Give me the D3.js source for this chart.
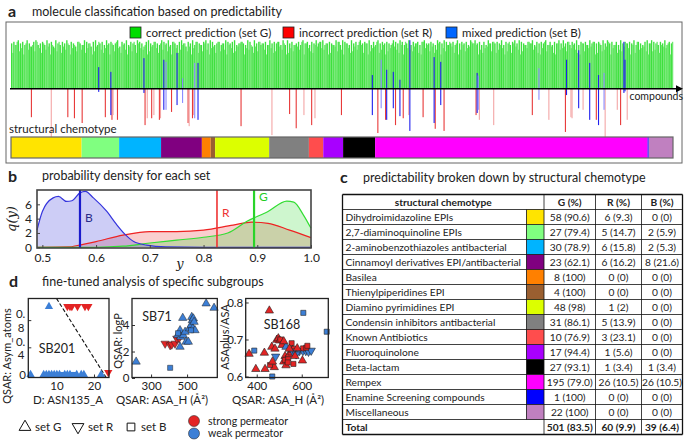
<!DOCTYPE html>
<html><head><meta charset="utf-8">
<script src="https://cdn.jsdelivr.net/npm/d3@7"></script>
<style>
body{margin:0;background:#fff}
svg{display:block}
text{font-family:Lato,'Open Sans',sans-serif;fill:#222}
</style>
</head><body>
<svg id="fig" width="685" height="440"></svg>
<script>
// ---------- data ----------
const nComp = 600;
// green bar heights per compound: digit = dark bar, letter = light bar (a=0 .. j=9)
const greenCodes =
  "7b8g6i9c7e 8a6h9d7f5g 8c9i6e7b8h 6d9f7a8g5e 9c7i6b8f7d 9h6a8e7g5c " +
  "8i7d6g9b8e 7h5a8c9f6i 7d8b6e9g7a 8h6c7i9e5b 8g7d9a6f8c 7i6b9h8e7d " +
  "5g8a9c7f6i 8e7b6h9d8g 7c9f6a8i7e 6b8d9g7h5c 8f7a9e6i8b 7g6c8h9d7a " +
  "9e8f6b7i8c 6h7d9a8g7e 8b9c6f7h8i 7a6e9d8g5b 9f7c8i6h7d 8a6g9e7b8c " +
  "7i8f6d9h6a 9b7e8c6g7f 8d6i9a7h8e 6c8b7g9f7i 8e9d6h7a8b 7g6f9c8i6d " +
  "9a8h7e6b9c 7f8d6i9g7b 8h7a9c6e8f 6i9b7d8g7a 8c7e6h9f8d 7b9g8a6i7e " +
  "9d6c8f7h8b 6a8i9e7g7c 8f7b6d9h8a 7e9c8g6i7f 8b6h9a7d8g 7c8e6f9i7h " +
  "9g7a8d6b8e 6f9h7c8i7b 8d7g9e6a8c 7i6b8h9f7d 9a8c7g6e8i 7h9d6f8b7a " +
  "8e7i9c6g8f 6b8a7h9d7e 9f7c8i6e8g 7d9b6a8h7c 8g6e9f7i8a 7b8h6c9d7f " +
  "9i7a8e6g8b 6d9c7f8h7e 8a7g9b6i8d 7e6f8c9a7h 9c8d7i6b8g 7f9e6h8a7i";
// red (incorrect) compounds: [index, depth, pale]
const redBars = [
  [18,-0.54,0],[36,-0.97,1],[51,-0.54,0],[57,-0.56,0],[64,-0.65,0],[85,-0.54,0],[91,-0.59,0],
  [92,-0.5,1],[96,-0.59,0],[121,-0.69,0],[123,-0.56,1],[127,-0.56,0],[129,-0.5,1],[134,-0.59,0],
  [135,-0.56,1],[145,-0.44,0],[160,-0.65,0],[161,-0.71,1],[164,-0.56,0],[165,-0.5,1],[208,-0.71,0],
  [236,-0.88,1],[252,-0.48,0],[258,-0.75,0],[265,-0.5,1],[272,-0.69,0],[275,-0.56,1],[299,-0.5,0],
  [332,-0.84,0],[339,-0.59,0],[348,-0.69,0],[355,-0.56,0],[360,-0.5,1],[373,-0.54,0],[384,-0.76,0],
  [392,-0.8,0],[421,-0.5,0],[424,-0.59,1],[437,-0.69,1],[472,-0.5,0],[487,-0.59,1],[502,-0.82,0],
  [507,-0.54,1],[508,-0.56,1],[518,-0.4,1],[530,-0.59,0],[538,-1.13,1],[549,-0.4,1],[552,-0.69,0],
  [558,-0.59,1]
];
// blue (mixed) compounds: [index, up, down, pale]
const blueBars = [
  [79,0.41,-0.06,0],[90,0.32,-0.5,0],[120,0.58,-0.08,0],[138,0.55,-0.4,0],[140,0.51,-0.4,1],
  [150,0.68,-0.31,0],[155,0.2,-0.27,1],[166,0.49,-0.56,1],[169,0.49,-0.59,0],[327,0.26,-0.5,0],
  [335,0.55,-0.37,1],[340,0.36,-0.59,0],[346,0.32,-0.37,0],[352,0.17,-0.52,0],[361,0.92,-0.8,0],
  [383,0.6,-0.65,0],[389,0.51,-0.31,0],[422,0.3,-0.46,0],[423,0.25,-0.4,1],[478,0.39,-0.21,1],
  [503,0.55,-0.12,0],[514,0.73,-0.37,0],[524,0.49,-0.59,0],[532,0.26,-0.69,0],[537,0.3,-0.4,1],
  [555,0.89,-0.08,0],[556,0.55,-0.05,0]
];

// chemotype table
const chemoNames = ["Dihydroimidazoline EPIs","2,7-diaminoquinoline EPIs","2-aminobenzothiazoles antibacterial",
  "Cinnamoyl derivatives EPI/antibacterial","Basilea","Thienylpiperidines EPI","Diamino pyrimidines EPI",
  "Condensin inhibitors antibacterial","Known Antibiotics","Fluoroquinolone","Beta-lactam","Rempex",
  "Enamine Screening compounds","Miscellaneous"];
const chemoColors = ["#ffe400","#80ff80","#00b4ff","#800080","#ff8000","#9a5f30","#dcff00",
  "#808080","#ff4d4d","#a800ff","#000000","#ff00ff","#0000ff","#c080c0"];
const gN = [58,27,30,23,8,4,48,31,10,17,27,195,1,22];
const gP = ["90.6","79.4","78.9","62.1","100","100","98","86.1","76.9","94.4","93.1","79.0","100","100"];
const rN = [6,5,6,6,0,0,1,5,3,1,1,26,0,0];
const rP = ["9.3","14.7","15.8","16.2","0","0","2","13.9","23.1","5.6","3.4","10.5","0","0"];
const bN = [0,2,2,8,0,0,0,0,0,0,1,26,0,0];
const bP = ["0","5.9","5.3","21.6","0","0","0","0","0","0","3.4","10.5","0","0"];
const totN = [501,60,39];
const totP = ["83.5","9.9","6.4"];

// densities (panel b)
const densB = {x:[0.49,0.50,0.52,0.53,0.545,0.555,0.57,0.58,0.595,0.62,0.638,0.654,0.67,0.694,0.73,0.8,1.0],
               q:[2.4,5.0,6.9,7.1,6.4,6.5,7.6,7.8,6.9,5.0,3.2,1.8,0.8,0.3,0.05,0,0]};
const densR = {x:[0.49,0.55,0.565,0.6,0.65,0.7,0.75,0.8,0.855,0.89,0.92,0.96,1.0],
               q:[0,0.05,0.25,0.8,1.7,2.2,2.2,2.4,3.1,3.5,3.35,2.4,1.35]};
const densG = {x:[0.49,0.6,0.65,0.7,0.75,0.8,0.845,0.88,0.92,0.955,0.968,0.986,1.0],
               q:[0,0,0.15,0.6,1.0,1.4,2.0,3.6,5.0,6.45,6.3,4.5,2.65]};
const meanLines = [["B",0.57,"#1a1acc"],["R",0.825,"#ee3333"],["G",0.894,"#2ad42a"]];

// panel d scatter points: [x, y, set, permeator]
const sb201Pts = [
  [3.1,0,"G","w"],[6.6,0,"G","w"],[7.3,0,"G","w"],[8.0,0,"G","w"],[8.7,0,"G","w"],[9.4,0,"G","w"],
  [10.1,0,"G","w"],[10.8,0,"G","w"],[11.5,0,"B","w"],[12.2,0,"G","w"],[12.9,0,"G","w"],[13.6,0,"G","w"],
  [14.1,0,"B","w"],[14.8,0,"B","w"],[15.4,0,"G","w"],[16.6,0,"G","w"],[17.3,0,"G","w"],[21.9,0,"G","w"],
  [8.0,1.0,"G","w"],[12.9,1.0,"R","s"],[13.6,1.0,"R","s"],[14.1,1.0,"R","s"],[15.6,1.0,"R","s"],
  [17.6,1.0,"R","s"],[18.5,1.0,"R","s"],[23.8,0.03,"R","s"]
];
const sb201Line = [[10.0,1.12],[23.2,-0.04]];
const sb71Pts = [
  [217,1.23,"G","w"],[406,0.77,"B","w"],
  [378,2.6,"R","s"],[406,2.48,"R","s"],[415,2.53,"R","s"],[433,2.6,"R","s"],[443,2.98,"R","s"],[457,3.03,"R","s"],
  [448,3.23,"G","w"],[461,3.6,"G","w"],[465,3.1,"G","w"],[476,4.53,"G","w"],[479,3.23,"G","w"],[489,3.48,"G","w"],
  [494,2.73,"G","w"],[507,2.73,"G","w"],[513,3.74,"G","w"],[522,3.98,"G","w"],[526,4.6,"G","w"],[529,4.36,"G","w"],
  [532,3.74,"G","w"],[535,4.49,"G","w"],[539,4.23,"G","w"],[544,3.6,"G","w"],[461,2.35,"G","w"],
  [606,5.62,"G","w"],[650,5.29,"G","w"],[450,3.38,"B","w"],[522,3.6,"B","w"]
];
const sb168Pts = [
  [456,0.778,"G","s"],[607,0.772,"B","w"],[711,0.721,"B","w"],[389,0.670,"B","w"],[366,0.661,"G","s"],
  [434,0.664,"G","s"],[396,0.620,"G","s"],[437,0.620,"G","s"],[478,0.625,"G","s"],[469,0.600,"B","w"],
  [459,0.631,"B","s"],[467,0.680,"G","s"],[481,0.675,"G","s"],[489,0.699,"G","s"],[496,0.703,"G","s"],
  [502,0.697,"G","s"],[505,0.700,"B","s"],[484,0.654,"R","w"],[512,0.685,"G","s"],[526,0.655,"G","s"],
  [530,0.680,"G","w"],[555,0.690,"B","s"],[520,0.640,"G","s"],[530,0.630,"G","s"],[525,0.645,"B","s"],
  [540,0.650,"B","s"],[545,0.660,"G","s"],[550,0.665,"B","s"],[558,0.672,"G","s"],[565,0.675,"B","s"],
  [560,0.668,"R","w"],[563,0.634,"B","s"],[603,0.643,"G","s"],[590,0.669,"R","w"],[605,0.669,"R","w"],
  [618,0.669,"R","w"],[630,0.667,"R","w"],[642,0.670,"R","w"],[606,0.676,"B","s"],[620,0.678,"B","s"],
  [625,0.683,"B","s"],[580,0.676,"G","s"],[520,0.695,"G","s"],[470,0.640,"G","s"],[575,0.660,"R","w"],
  [538,0.638,"B","s"],[570,0.655,"G","s"],[545,0.675,"G","s"]
];

// ---------- drawing ----------
const svg = d3.select("#fig");
svg.append("rect").attr("width",685).attr("height",440).attr("fill","#fff");

function panelTitle(letter, lx, ly, title, tx, ty) {
  svg.append("text").attr("x",lx).attr("y",ly).attr("font-size",16).attr("font-weight","bold").text(letter);
  svg.append("text").attr("x",tx).attr("y",ty).attr("font-size",12.5).text(title);
}

// ===== panel a =====
panelTitle("a", 8, 17, "molecule classification based on predictability", 32, 16);
const gA = svg.append("g");
gA.append("rect").attr("x",6).attr("y",22).attr("width",676).attr("height",141)
  .attr("fill","none").attr("stroke","#666");

const xA = d3.scaleBand().domain(d3.range(nComp)).range([11,673]);
const yA = d3.scaleLinear().domain([-1.2,1]).range([152,36]);
const greenVals = greenCodes.replace(/ /g,"").split("").map(c => {
  const light = c >= "a";
  const d = light ? c.charCodeAt(0) - 97 : +c;
  return {v: 0.65 + 0.03*d, light};
});

gA.selectAll(".gbar").data(greenVals).join("rect").attr("class","gbar")
  .attr("x",(d,i)=>xA(i)).attr("width",xA.bandwidth()+0.25)
  .attr("y",d=>yA(d.v)).attr("height",d=>yA(0)-yA(d.v))
  .attr("fill",d=>d.light ? "#72e872" : "#3de03d");
gA.selectAll(".rbar").data(redBars).join("rect").attr("class","rbar")
  .attr("x",d=>xA(d[0])).attr("width",xA.bandwidth())
  .attr("y",yA(0)).attr("height",d=>yA(d[1])-yA(0))
  .attr("fill",d=>d[2] ? "#f4a6a6" : "#e83a3a");
gA.selectAll(".bup").data(blueBars).join("rect").attr("class","bup")
  .attr("x",d=>xA(d[0])).attr("width",xA.bandwidth())
  .attr("y",d=>yA(d[1])).attr("height",d=>yA(0)-yA(d[1]))
  .attr("fill",d=>d[3] ? "#8c8cff" : "#2020ee");
gA.selectAll(".bdn").data(blueBars).join("rect").attr("class","bdn")
  .attr("x",d=>xA(d[0])).attr("width",xA.bandwidth())
  .attr("y",yA(0)).attr("height",d=>yA(d[2])-yA(0))
  .attr("fill",d=>d[3] ? "#8c8cff" : "#2020ee");

// axis with arrow
gA.append("line").attr("x1",10).attr("x2",678).attr("y1",yA(0)).attr("y2",yA(0))
  .attr("stroke","#000").attr("stroke-width",1.3);
gA.append("path").attr("d",`M683,${yA(0)} l-7,-3.5 l0,7 z`).attr("fill","#000");
gA.append("text").attr("x",683).attr("y",yA(0)+11).attr("text-anchor","end")
  .attr("font-size",10.5).text("compounds");

// legend
const legA = [["correct prediction (set G)","#00dd00",130],["incorrect prediction (set R)","#ff0000",283],
              ["mixed prediction (set B)","#0066ff",446]];
legA.forEach(([lab,col,x]) => {
  gA.append("rect").attr("x",x).attr("y",27).attr("width",11).attr("height",11)
    .attr("fill",col).attr("stroke","#222").attr("stroke-width",0.8);
  gA.append("text").attr("x",x+16).attr("y",37).attr("font-size",11.5).text(lab);
});

// chemotype bar
gA.append("text").attr("x",9).attr("y",133).attr("font-size",11.5).text("structural chemotype");
const chemoCounts = gN.map((g,i)=>g+rN[i]+bN[i]);
const chemoStart = [0, ...d3.cumsum(chemoCounts)];
const xC = d3.scaleLinear().domain([0,nComp]).range([11,673]);
gA.selectAll(".chemo").data(chemoCounts).join("rect").attr("class","chemo")
  .attr("x",(d,i)=>xC(chemoStart[i])).attr("width",d=>xC(d)-xC(0))
  .attr("y",137).attr("height",21).attr("fill",(d,i)=>chemoColors[i]);
gA.append("rect").attr("x",11).attr("y",137).attr("width",662).attr("height",21)
  .attr("fill","none").attr("stroke","#666").attr("stroke-width",1.2);

// ===== panel b =====
panelTitle("b", 8, 182, "probability density for each set", 42, 180);
const gB = svg.append("g");
const xB = d3.scaleLinear().domain([0.49,1.0]).range([37,311]);
const yB = d3.scaleLinear().domain([-0.1,8]).range([248,190]);
const areaB = d3.area().x(d=>xB(d[0])).y0(yB(0)).y1(d=>yB(d[1])).curve(d3.curveMonotoneX);
const lineB = d3.line().x(d=>xB(d[0])).y(d=>yB(d[1])).curve(d3.curveMonotoneX);
const dens = [[densR,"#ee2222","rgba(235,60,60,0.25)"],[densG,"#33dd33","rgba(60,220,60,0.25)"],
              [densB,"#3434dd","rgba(70,70,220,0.27)"]];
dens.forEach(([d,stroke,fill]) => {
  const pts = d.x.map((x,i)=>[x,d.q[i]]);
  gB.append("path").attr("d",areaB(pts)).attr("fill",fill);
});
dens.forEach(([d,stroke]) => {
  const pts = d.x.map((x,i)=>[x,d.q[i]]);
  gB.append("path").attr("d",lineB(pts)).attr("fill","none").attr("stroke",stroke).attr("stroke-width",1.2);
});
meanLines.forEach(([lab,x,col]) => {
  gB.append("line").attr("x1",xB(x)).attr("x2",xB(x)).attr("y1",190).attr("y2",248)
    .attr("stroke",col).attr("stroke-width",lab==="R"?1.6:2.2);
});
gB.append("text").attr("x",xB(0.57)+5).attr("y",222).attr("font-size",12).style("fill","#2a2a88").text("B");
gB.append("text").attr("x",xB(0.825)+5).attr("y",217).attr("font-size",12).style("fill","#ee3333").text("R");
gB.append("text").attr("x",xB(0.894)+5).attr("y",201).attr("font-size",12).style("fill","#22cc22").text("G");

const axBx = gB.append("g").attr("transform","translate(0,248)")
  .call(d3.axisBottom(xB).tickValues([0.5,0.6,0.7,0.8,0.9,1.0]).tickFormat(d3.format(".1f")).tickSize(-3).tickPadding(5));
const axBy = gB.append("g").attr("transform","translate(37,0)")
  .call(d3.axisLeft(yB).tickValues([0,2,4,6]).tickSize(-3).tickPadding(5));
[axBx,axBy].forEach(a => {
  a.select(".domain").remove();
  a.selectAll("text").attr("font-size",12).style("font-family","Lato,sans-serif").style("fill","#222");
  a.selectAll("line").attr("stroke","#444");
});
gB.append("rect").attr("x",37).attr("y",190).attr("width",274).attr("height",58)
  .attr("fill","none").attr("stroke","#444").attr("stroke-width",1.6);
gB.append("text").attr("transform","translate(16,219) rotate(-90)").attr("text-anchor","middle")
  .attr("font-size",13).style("font-family","'DejaVu Serif',serif").style("font-style","italic").text("q(y)");
gB.append("text").attr("x",180).attr("y",268).attr("text-anchor","middle")
  .attr("font-size",13).style("font-family","'DejaVu Serif',serif").style("font-style","italic").text("y");

// ===== panel c =====
panelTitle("c", 340, 183, "predictability broken down by structural chemotype", 363, 182);
const gC = svg.append("g");
const colX = [342.5,526.5,544,595.5,641.5,682.5];
const rowH = 15, tTop = 194.5, fsC = 10.2;
const nRows = chemoNames.length + 2;
// header
const fmt = (n,p) => `${n} (${p})`;
gC.append("text").attr("x",(colX[0]+colX[2])/2).attr("y",tTop+11).attr("text-anchor","middle")
  .attr("font-size",fsC).attr("font-weight","bold").text("structural chemotype");
["G (%)","R (%)","B (%)"].forEach((h,i) => {
  gC.append("text").attr("x",(colX[i+2]+colX[i+3])/2).attr("y",tTop+11).attr("text-anchor","middle")
    .attr("font-size",fsC).attr("font-weight","bold").text(h);
});
chemoNames.forEach((name,i) => {
  const y = tTop + rowH*(i+1);
  gC.append("rect").attr("x",colX[1]).attr("y",y).attr("width",colX[2]-colX[1]).attr("height",rowH)
    .attr("fill",chemoColors[i]);
  gC.append("text").attr("x",colX[0]+3).attr("y",y+11).attr("font-size",fsC).text(name);
  [fmt(gN[i],gP[i]),fmt(rN[i],rP[i]),fmt(bN[i],bP[i])].forEach((t,j) => {
    gC.append("text").attr("x",(colX[j+2]+colX[j+3])/2).attr("y",y+11).attr("text-anchor","middle")
      .attr("font-size",fsC).text(t);
  });
});
const yTot = tTop + rowH*(chemoNames.length+1);
gC.append("text").attr("x",colX[0]+3).attr("y",yTot+11).attr("font-size",fsC).attr("font-weight","bold").text("Total");
totN.forEach((n,j) => {
  gC.append("text").attr("x",(colX[j+2]+colX[j+3])/2).attr("y",yTot+11).attr("text-anchor","middle")
    .attr("font-size",fsC).attr("font-weight","bold").text(fmt(n,totP[j]));
});
// grid
d3.range(nRows+1).forEach(r => {
  gC.append("line").attr("x1",colX[0]).attr("x2",colX[5]).attr("y1",tTop+r*rowH).attr("y2",tTop+r*rowH)
    .attr("stroke","#111").attr("stroke-width",r===0||r===nRows?1.3:0.8);
});
colX.forEach((x,k) => {
  let y1 = tTop, y2 = tTop + nRows*rowH;
  if (k===1) { y1 = tTop + rowH; y2 = yTot; }
  gC.append("line").attr("x1",x).attr("x2",x).attr("y1",y1).attr("y2",y2)
    .attr("stroke","#111").attr("stroke-width",k===0||k===5?1.3:0.8);
});

// ===== panel d =====
panelTitle("d", 9, 287, "fine-tuned analysis of specific subgroups", 42, 286);
const gD = svg.append("g");
const colorPerm = {s:"#e32424", w:"#3c7fd6"};
function marker(set) {
  if (set==="B") return d3.symbol().type(d3.symbolSquare).size(26)();
  return d3.symbol().type(d3.symbolTriangle).size(30)();
}
const subplots = [
  {pts:sb201Pts, x0:28.3, x1:109, xd:[2.5,24], yd:[-0.044,1.118], xt:[10,20], yt:[0,0.4,0.8],
   ylab:"QSAR: Asym_atoms", ylx:11, yly:356, xlab:"D: ASN135_A", xlx:68, name:"SB201", nx:57, ny:353, edge:0},
  {pts:sb71Pts, x0:132, x1:217.3, xd:[194,668], yd:[0.04,6.0], xt:[300,500], yt:[0,2,4],
   ylab:"QSAR: logP", ylx:122, yly:341, xlab:"QSAR: ASA_H (Å²)", xlx:162, name:"SB71", nx:157, ny:321, edge:0.5},
  {pts:sb168Pts, x0:245.7, x1:328.3, xd:[351,718], yd:[0.5973,0.8108], xt:[400,600], yt:[0.6,0.7,0.8],
   ylab:"ASAplus/ASA", ylx:228.5, yly:337, xlab:"QSAR: ASA_H (Å²)", xlx:278, name:"SB168", nx:282, ny:329, edge:0.6}
];
const yTopD = 298.5, yBotD = 377.5;
subplots.forEach((sp,k) => {
  const g = gD.append("g");
  const x = d3.scaleLinear().domain(sp.xd).range([sp.x0,sp.x1]);
  const y = d3.scaleLinear().domain(sp.yd).range([yBotD,yTopD]);
  const ax = g.append("g").attr("transform",`translate(0,${yBotD})`)
    .call(d3.axisBottom(x).tickValues(sp.xt).tickSize(-3).tickPadding(4));
  const ay = g.append("g").attr("transform",`translate(${sp.x0},0)`)
    .call(d3.axisLeft(y).tickValues(sp.yt).tickSize(-3).tickPadding(2.5).tickFormat(k===2?d3.format(".1f"):d3.format("d")));
  [ax,ay].forEach(a => {
    a.select(".domain").remove();
    a.selectAll("text").attr("font-size",11.5).style("font-family","Lato,sans-serif").style("fill","#222");
    a.selectAll("line").attr("stroke","#333");
  });
  if (k===0) {
    // wrapped tick labels as in the original ("0." over "4")
    ay.selectAll(".tick text").each(function(d) {
      const t = d3.select(this);
      if (d === 0) { t.text("0"); return; }
      const s = d3.format(".1f")(d);
      t.text(null).attr("dy",null);
      t.append("tspan").attr("x",-3).attr("dy","-0.2em").text(s.slice(0,2));
      t.append("tspan").attr("x",-4).attr("dy","1.15em").text(s.slice(2));
    });
    g.append("line").attr("x1",x(sb201Line[0][0])).attr("y1",y(sb201Line[0][1]))
      .attr("x2",x(sb201Line[1][0])).attr("y2",y(sb201Line[1][1]))
      .attr("stroke","#111").attr("stroke-width",1.1).attr("stroke-dasharray","4,2");
  }
  g.selectAll(".pt").data(sp.pts).join("path").attr("class","pt")
    .attr("d",d=>marker(d[2]))
    .attr("transform",d=>`translate(${x(d[0])},${y(d[1])})${d[2]==="R"?" rotate(180)":""}`)
    .attr("fill",d=>colorPerm[d[3]])
    .attr("stroke",sp.edge?"#222":"none").attr("stroke-width",sp.edge);
  g.append("rect").attr("x",sp.x0).attr("y",yTopD).attr("width",sp.x1-sp.x0).attr("height",yBotD-yTopD)
    .attr("fill","none").attr("stroke","#222").attr("stroke-width",1.3);
  g.append("text").attr("x",sp.nx).attr("y",sp.ny).attr("text-anchor","middle").attr("font-size",12.5).text(sp.name);
  g.append("text").attr("transform",`translate(${sp.ylx},${sp.yly}) rotate(-90)`).attr("text-anchor","middle")
    .attr("font-size",11).text(sp.ylab);
  g.append("text").attr("x",sp.xlx).attr("y",404).attr("text-anchor","middle").attr("font-size",11.5).text(sp.xlab);
});

// legend of panel d
const legShapes = [["G","set G",25],["R","set R",78],["B","set B",131]];
legShapes.forEach(([s,lab,x]) => {
  gD.append("path").attr("d",d3.symbol().type(s==="B"?d3.symbolSquare:d3.symbolTriangle).size(60)())
    .attr("transform",`translate(${x},427)${s==="R"?" rotate(180)":""}`)
    .attr("fill","#fff").attr("stroke","#111").attr("stroke-width",1);
  gD.append("text").attr("x",x+10).attr("y",431).attr("font-size",11.5).text(lab);
});
[["strong permeator","s",421],["weak permeator","w",433.5]].forEach(([lab,p,y]) => {
  gD.append("circle").attr("cx",194).attr("cy",y).attr("r",5.5).attr("fill",colorPerm[p])
    .attr("stroke","#333").attr("stroke-width",0.6);
  gD.append("text").attr("x",208).attr("y",y+3.5).attr("font-size",10.5).text(lab);
});
</script>
</body></html>
